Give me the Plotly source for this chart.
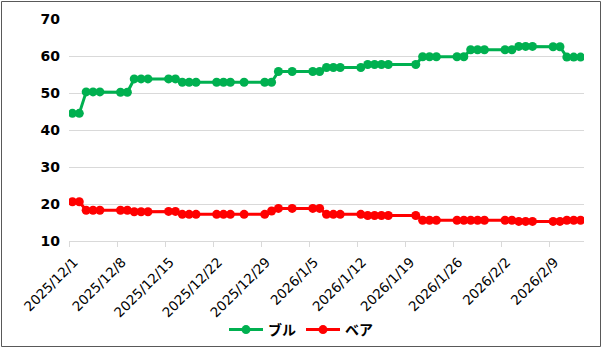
import pandas as pd
import plotly.graph_objects as go

# Trading days
dates = [
    "2025-12-01", "2025-12-02", "2025-12-03", "2025-12-04", "2025-12-05",
    "2025-12-08", "2025-12-09", "2025-12-10", "2025-12-11", "2025-12-12",
    "2025-12-15", "2025-12-16", "2025-12-17", "2025-12-18", "2025-12-19",
    "2025-12-22", "2025-12-23", "2025-12-24", "2025-12-26",
    "2025-12-29", "2025-12-30", "2025-12-31",
    "2026-01-02",
    "2026-01-05", "2026-01-06", "2026-01-07", "2026-01-08", "2026-01-09",
    "2026-01-12", "2026-01-13", "2026-01-14", "2026-01-15", "2026-01-16",
    "2026-01-20", "2026-01-21", "2026-01-22", "2026-01-23",
    "2026-01-26", "2026-01-27", "2026-01-28", "2026-01-29", "2026-01-30",
    "2026-02-02", "2026-02-03", "2026-02-04", "2026-02-05", "2026-02-06",
    "2026-02-09", "2026-02-10", "2026-02-11", "2026-02-12", "2026-02-13",
]

bull = [
    44.5, 44.5, 50.3, 50.3, 50.3,
    50.2, 50.2, 53.8, 53.8, 53.8,
    53.8, 53.8, 52.9, 52.9, 52.9,
    52.9, 52.9, 52.9, 52.9,
    52.9, 52.9, 55.8,
    55.8,
    55.8, 55.8, 56.9, 56.9, 56.9,
    56.9, 57.7, 57.7, 57.7, 57.7,
    57.7, 59.8, 59.8, 59.8,
    59.8, 59.8, 61.7, 61.7, 61.7,
    61.7, 61.7, 62.6, 62.6, 62.6,
    62.5, 62.5, 59.7, 59.7, 59.7,
]

bear = [
    20.6, 20.6, 18.3, 18.3, 18.3,
    18.3, 18.3, 17.9, 17.9, 17.9,
    18.0, 18.0, 17.2, 17.2, 17.2,
    17.2, 17.2, 17.2, 17.2,
    17.2, 18.1, 18.8,
    18.8,
    18.8, 18.8, 17.2, 17.2, 17.2,
    17.2, 16.9, 16.9, 16.9, 16.9,
    16.9, 15.6, 15.6, 15.6,
    15.6, 15.6, 15.6, 15.6, 15.6,
    15.6, 15.6, 15.3, 15.3, 15.3,
    15.3, 15.3, 15.6, 15.6, 15.6,
]

tick_dates = [
    "2025-12-01", "2025-12-08", "2025-12-15", "2025-12-22", "2025-12-29",
    "2026-01-05", "2026-01-12", "2026-01-19", "2026-01-26", "2026-02-02",
    "2026-02-09",
]
tick_labels = [
    "2025/12/1", "2025/12/8", "2025/12/15", "2025/12/22", "2025/12/29",
    "2026/1/5", "2026/1/12", "2026/1/19", "2026/1/26", "2026/2/2",
    "2026/2/9",
]

series_names = ["ブル", "ベア"]
series_colors = ["#00B050", "#FF0000"]

# each point sits in the middle of its day slot
x = pd.to_datetime(dates) + pd.Timedelta(hours=12)

fig = go.Figure()
for name, vals, color in zip(series_names, [bull, bear], series_colors):
    fig.add_trace(go.Scatter(
        x=x, y=vals, name=name, mode="lines+markers",
        line=dict(color=color, width=3),
        marker=dict(color=color, size=9),
    ))

L, R, T, B = 69, 18, 19, 107
W, H = 602, 348
pw, ph = W - L - R, H - T - B


def px_x(p):
    return (p - L) / pw


def px_y(p):
    return (T + ph - p) / ph


fig.update_layout(
    width=W, height=H,
    margin=dict(l=L, r=R, t=T, b=B, autoexpand=False),
    paper_bgcolor="white", plot_bgcolor="white",
    showlegend=True,
    legend=dict(
        orientation="h", x=px_x(301), xanchor="center",
        y=px_y(330), yanchor="middle",
        font=dict(family="Noto Sans CJK JP", size=14, color="black", weight="bold"),
        itemwidth=34, tracegroupgap=0,
    ),
    xaxis=dict(
        type="date", automargin=False,
        range=["2025-12-01", "2026-02-14"],
        tickvals=pd.to_datetime(tick_dates), ticktext=tick_labels,
        tickangle=-45,
        tickfont=dict(family="DejaVu Sans", size=13.5, color="black"),
        ticklabelshift=5, ticklabelstandoff=2,
        showgrid=False, showline=True, linecolor="#D9D9D9", linewidth=1,
        ticks="outside", ticklen=5, tickcolor="#D9D9D9",
        zeroline=False,
    ),
    yaxis=dict(
        range=[10, 70], dtick=10, automargin=False,
        tickfont=dict(family="DejaVu Sans", size=14, color="black", weight="bold"),
        showgrid=True, gridcolor="#D9D9D9", gridwidth=1,
        zeroline=False, showline=False, ticks="", ticklabelstandoff=8,
    ),
    shapes=[dict(
        type="rect", xref="paper", yref="paper",
        x0=px_x(1.5), x1=px_x(600.5),
        y0=px_y(346.5), y1=px_y(1.5),
        line=dict(color="#595959", width=1), fillcolor="rgba(0,0,0,0)",
        layer="above",
    )],
)

fig.write_html("out.html")
